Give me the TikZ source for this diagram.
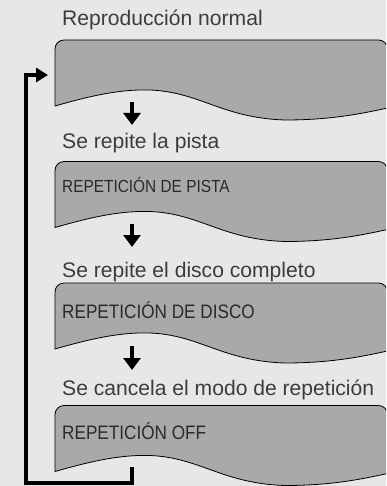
\documentclass[tikz,border=0pt]{standalone}
\usepackage{fontspec}
\setmainfont{Liberation Sans}
\newfontfamily\lblfont{Liberation Sans}
\newfontfamily\modefont[FakeStretch=0.88]{Liberation Sans}
\usetikzlibrary{arrows.meta}
\definecolor{panelBg}{HTML}{E6E7E8}
\definecolor{panelFill}{HTML}{A9A9A9}
\definecolor{inkGray}{HTML}{3C3C3C}
\definecolor{modeInk}{HTML}{2A2A2A}

% wavy display panel, #1 = top edge
\newcommand{\wavepanel}[1]{%
  \filldraw[fill=panelFill,draw=black,line width=0.8]
    [rounded corners=9] (55,{#1+66}) -- (55,#1) -- (387.5,#1) -- (387.5,{#1+40})
    [sharp corners] -- (387.5,{#1+68})
    .. controls (360,{#1+74}) and (330,{#1+80}) .. (285,{#1+80})
    .. controls (222,{#1+78}) and (200,{#1+52}) .. (150,{#1+50})
    .. controls (120,{#1+49}) and (90,{#1+56}) .. (55,{#1+66}) -- cycle;}

\begin{document}
\begin{tikzpicture}[x=1pt,y=-1pt,>=Latex,
    lbl/.style={anchor=base west,inner sep=0,text=inkGray,font=\lblfont\fontsize{21.1}{24}\selectfont},
    modetxt/.style={anchor=base west,inner sep=0,text=modeInk},
    downarr/.style={line width=3.5,-{Triangle[width=17,length=12]}},
    loopline/.style={line width=4,line join=miter,-{Triangle[width=14,length=12]}}]
  \useasboundingbox (0,0) rectangle (386,486);
  \fill[panelBg] (0,0) rectangle (386,486);
  \begin{scope}
    \clip (0,0) rectangle (386,486);
    \wavepanel{40}
    \wavepanel{161.5}
    \wavepanel{283}
    \wavepanel{405.5}
  \end{scope}

  \node[lbl] (normal) at (62,26) {Reproducción normal};
  \node[lbl] (lblpista) at (62,149) {Se repite la pista};
  \node[lbl] (lbldisco) at (62,277) {Se repite el disco completo};
  \node[lbl] (lbloff) at (62,395.5) {Se cancela el modo de repetición};

  \node[modetxt,font=\modefont\fontsize{17.5}{20}\selectfont] (pista) at (62,193) {REPETICIÓN DE PISTA};
  \node[modetxt,font=\modefont\fontsize{19.5}{22}\selectfont] (disco) at (62,318.5) {REPETICIÓN DE DISCO};
  \node[modetxt,font=\modefont\fontsize{19.5}{22}\selectfont] (off) at (62,439) {REPETICIÓN OFF};

  \coordinate (a1) at (132,102);
  \coordinate (b1) at (132,125);
  \coordinate (a2) at (132,224);
  \coordinate (b2) at (132,247);
  \coordinate (a3) at (132,346);
  \coordinate (b3) at (132,370);
  \draw[downarr] (a1) -- (b1);
  \draw[downarr] (a2) -- (b2);
  \draw[downarr] (a3) -- (b3);

  \coordinate (loopstart) at (132,467);
  \coordinate (loopcorner) at (26,483);
  \coordinate (loopend) at (48,75);
  \draw[loopline] (loopstart) |- (loopcorner) |- (loopend);
\end{tikzpicture}
\end{document}
